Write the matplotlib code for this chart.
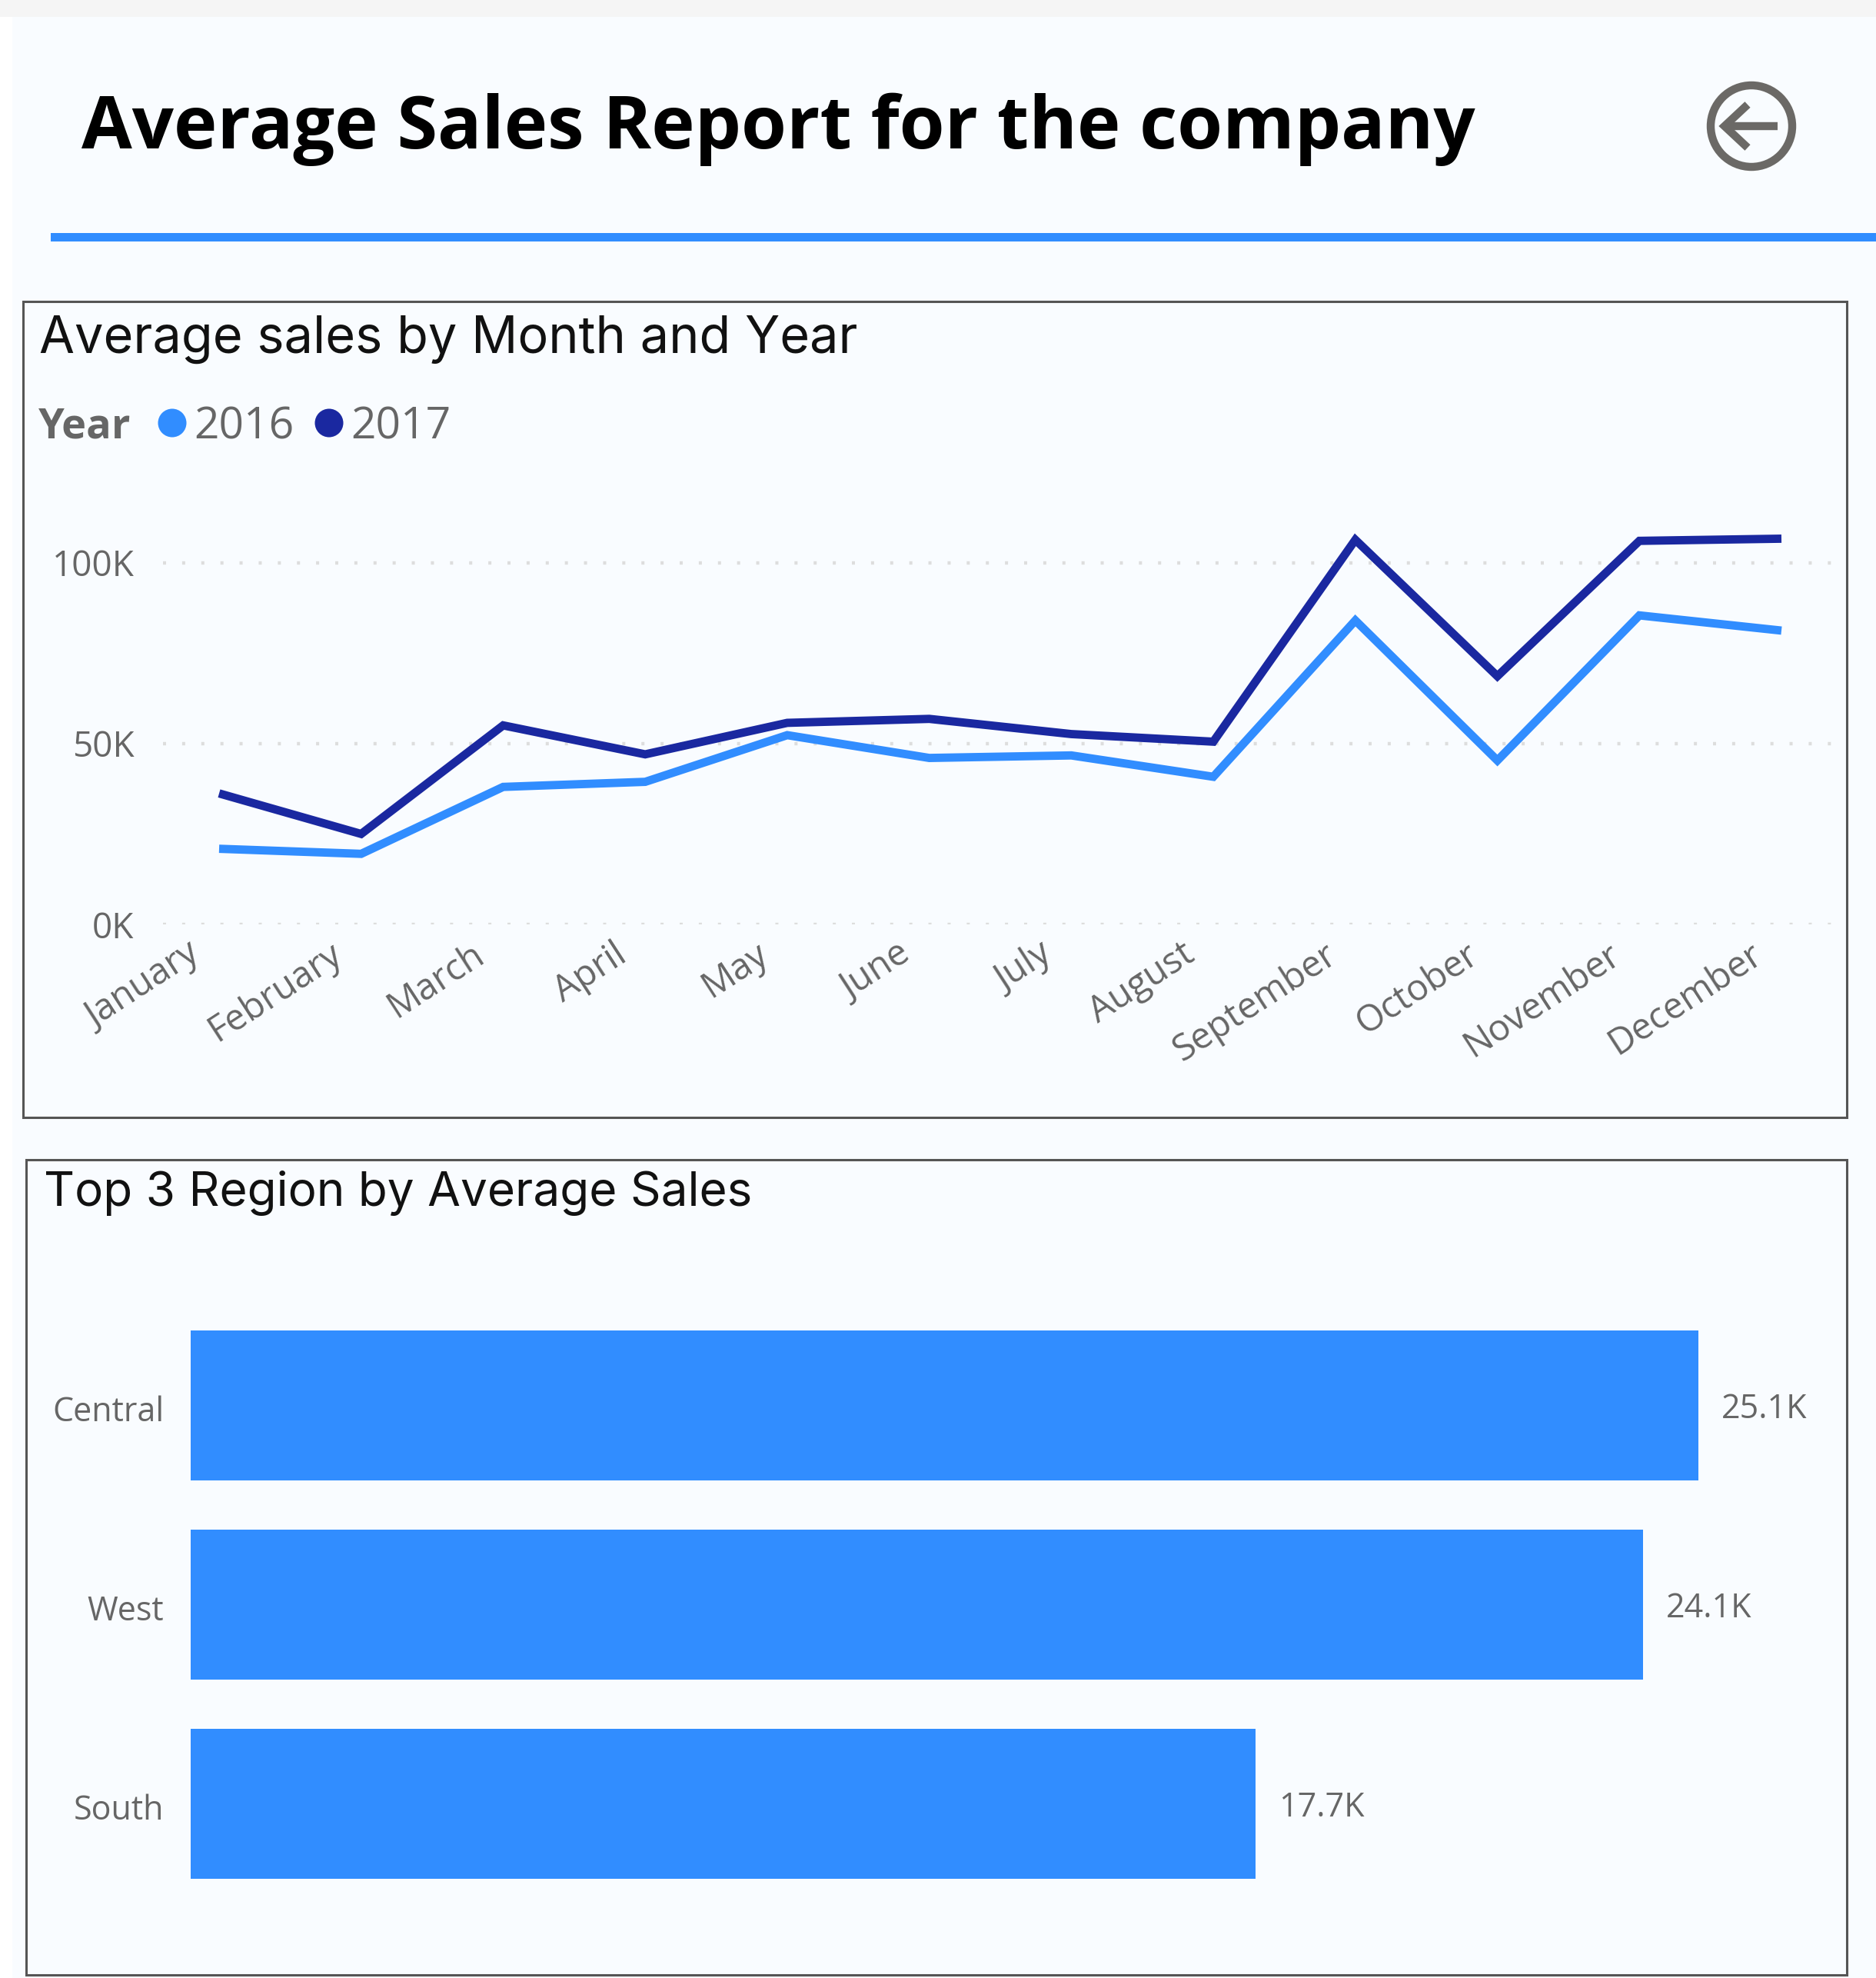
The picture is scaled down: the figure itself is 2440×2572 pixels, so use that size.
import numpy as np
import matplotlib
matplotlib.use('Agg')
import matplotlib.pyplot as plt
from matplotlib.patches import Rectangle, Circle
from matplotlib.transforms import ScaledTranslation

# chart values, in thousands
months = ['January', 'February', 'March', 'April', 'May', 'June', 'July',
          'August', 'September', 'October', 'November', 'December']
sales_2016 = [20.9, 19.5, 38.0, 39.4, 52.3, 46.0, 46.7, 40.8, 84.0, 45.3, 85.4, 81.2]
sales_2017 = [36.2, 25.0, 55.0, 47.0, 55.7, 56.8, 52.6, 50.5, 106.3, 68.6, 106.0, 106.6]
y_ticks = [0, 50, 100]
y_tick_labels = ['0K', '50K', '100K']

regions = ['Central', 'West', 'South']
region_sales = [25.1, 24.18, 17.73]
region_labels = ['25.1K', '24.1K', '17.7K']

W, H = 2440, 2572
BG = '#F9FCFF'
BLUE = '#318DFF'
NAVY = '#1A28A0'
GRAY = '#666666'
ICON = '#6B6966'
FONT = 'Open Sans'
HEAD_FONT = 'Inter'

fig = plt.figure(figsize=(W / 100, H / 100), dpi=100, facecolor='white')


def px_axes(left, top, right, bottom):
    # axes placed by pixel box of the reference
    return fig.add_axes([left / W, 1 - bottom / H, (right - left) / W, (bottom - top) / H])


# background layer, in pixel coordinates
bg = fig.add_axes([0, 0, 1, 1])
bg.set_xlim(0, W)
bg.set_ylim(H, 0)
bg.axis('off')
bg.add_patch(Rectangle((16, 22), W - 16, H - 22, fc=BG, ec='none'))
bg.add_patch(Rectangle((0, 0), W, 22, fc='#F5F5F5', ec='none'))
bg.add_patch(Rectangle((66, 303), W - 66, 11, fc=BLUE, ec='none'))

# panel frames
bg.add_patch(Rectangle((30, 392), 2372, 1061, fc='none', ec='#555555', lw=2.2))
bg.add_patch(Rectangle((34, 1508), 2368, 1060, fc='none', ec='#555555', lw=2.2))

# headings
bg.text(106, 157, 'Average Sales Report for the company', fontsize=68.7, fontweight='bold',
        family=FONT, color='black', va='center_baseline', ha='left')
bg.text(51, 434, 'Average sales by Month and Year', fontsize=48, family=HEAD_FONT,
        color='#111111', va='center_baseline', ha='left')
bg.text(57, 1545, 'Top 3 Region by Average Sales', fontsize=44.7, family=HEAD_FONT,
        color='#111111', va='center_baseline', ha='left')

# legend
bg.text(50, 549, 'Year', fontsize=39, fontweight='bold', family=FONT, color=GRAY,
        va='center_baseline', ha='left')
bg.add_patch(Circle((224, 550), 18.5, fc=BLUE, ec='none'))
bg.text(252, 549, '2016', fontsize=41, family=FONT, color=GRAY, va='center_baseline', ha='left')
bg.add_patch(Circle((428, 550), 18.5, fc=NAVY, ec='none'))
bg.text(456, 549, '2017', fontsize=41, family=FONT, color=GRAY, va='center_baseline', ha='left')

# back button
bg.add_patch(Circle((2278, 164), 53, fc='none', ec=ICON, lw=7.5))
bg.plot([2243, 2312], [164, 164], color=ICON, lw=7.5, solid_capstyle='butt')
bg.plot([2273, 2243, 2273], [136, 164, 192], color=ICON, lw=7.5, solid_capstyle='butt',
        solid_joinstyle='miter')

# line chart
ax1 = px_axes(212, 640, 2398, 1202)
ax1.patch.set_alpha(0)
x = np.arange(len(months))
ax1.set_xlim((212 - 285) / (2317 - 285) * 11, (2398 - 285) / (2317 - 285) * 11)
ax1.set_ylim(0, 100 * (1202 - 640) / (1202 - 731.5))
ax1.set_yticks(y_ticks)
ax1.set_yticklabels(y_tick_labels, fontsize=33, family=FONT, color=GRAY)
ax1.set_xticks(x)
ax1.set_xticklabels(months, fontsize=34, family=FONT, color=GRAY, rotation=33,
                    ha='right', va='top', rotation_mode='anchor')
ax1.tick_params(length=0)
ax1.tick_params(axis='x', pad=11)
ax1.tick_params(axis='y', pad=27)
shift = ScaledTranslation(-30 / 72, 0, fig.dpi_scale_trans)
for lab in ax1.get_xticklabels():
    lab.set_transform(lab.get_transform() + shift)
for s in ax1.spines.values():
    s.set_visible(False)
ax1.grid(axis='y', color='#DDDDDD', lw=3.2, linestyle=(0, (0.9, 4.7)), dash_capstyle='butt')
ax1.set_axisbelow(True)
ax1.plot(x, sales_2016, color=BLUE, lw=7.8, solid_joinstyle='miter', solid_capstyle='butt', clip_on=False)
ax1.plot(x, sales_2017, color=NAVY, lw=7.8, solid_joinstyle='miter', solid_capstyle='butt', clip_on=False)

# bar chart
ax2 = px_axes(248, 1600, 2380, 2480)
ax2.patch.set_alpha(0)
y = np.arange(len(regions))
x_per_px = 25.1 / (2209 - 248)
ax2.set_xlim(0, (2380 - 248) * x_per_px)
# central bar centre at 1827.5, pitch 259 px
ax2.set_ylim((2480 - 1827.5) / 259, (1600 - 1827.5) / 259)
ax2.barh(y, region_sales, height=0.75, color=BLUE)
ax2.set_yticks(y)
ax2.set_yticklabels(regions, fontsize=31, family=FONT, color=GRAY)
ax2.set_xticks([])
ax2.tick_params(length=0, pad=25)
shift2 = ScaledTranslation(0, -3 / 72, fig.dpi_scale_trans)
for lab in ax2.get_yticklabels():
    lab.set_transform(lab.get_transform() + shift2)
for s in ax2.spines.values():
    s.set_visible(False)
for yi, v, lab in zip(y, region_sales, region_labels):
    ax2.annotate(lab, (v, yi), xytext=(30 * 0.72, 0), textcoords='offset points',
                 fontsize=31, family=FONT, color=GRAY, va='center_baseline', ha='left')

fig.savefig('out.png', dpi=100, facecolor=fig.get_facecolor())
